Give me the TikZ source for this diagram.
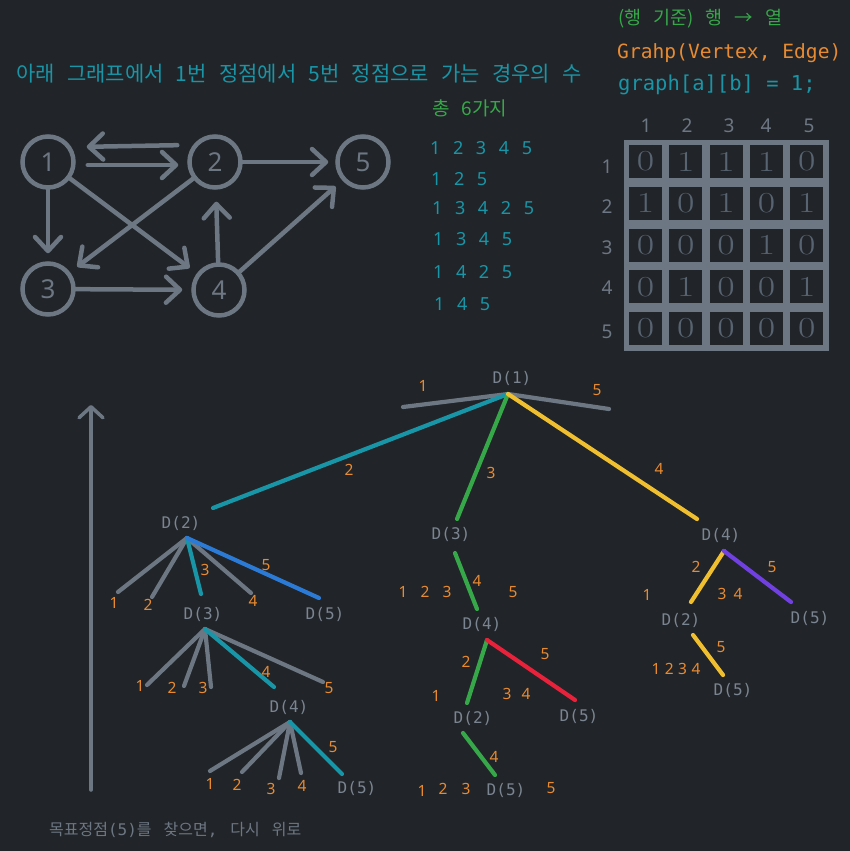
\documentclass[tikz,border=0pt]{standalone}
\usepackage{fontspec}
\usepackage{graphicx}
\usetikzlibrary{arrows.meta}
\newfontfamily\kr[WordSpace=2.2]{Noto Sans CJK KR}
\newfontfamily\krt[WordSpace=2.6]{Noto Sans CJK KR}
\newfontfamily\monof{DejaVu Sans Mono}
\newfontfamily\sansf{Noto Sans}
\definecolor{bg}{HTML}{212428}
\definecolor{gry}{HTML}{6D7783}
\definecolor{tgry}{HTML}{7B8591}
\definecolor{tealc}{HTML}{1895A6}
\definecolor{grn}{HTML}{37A84A}
\definecolor{orng}{HTML}{E88A30}
\definecolor{ylw}{HTML}{F0BF2F}
\definecolor{blu}{HTML}{2B7BD6}
\definecolor{redc}{HTML}{E8223A}
\definecolor{prp}{HTML}{7040E0}
\newcommand\gp{\hspace{12.6pt}}
\begin{document}
\begin{tikzpicture}[x=1pt,y=-1pt,
  vtx/.style={circle,draw=gry,line width=4.5pt,minimum size=51pt,inner sep=0pt,text=gry,font=\sansf\fontsize{26}{26}\selectfont},
  garr/.style={draw=gry,line width=4.5pt,line cap=round,-{Straight Barb[length=14pt,width=26pt,line cap=round,line join=round]}},
  dtxt/.style={inner sep=0pt,text=tgry,font=\monof\fontsize{16}{16}\selectfont},
  lbl/.style={inner sep=0pt,text=orng,font=\sansf\fontsize{15.5}{16}\selectfont},
  tl/.style={line width=4.2pt,line cap=round},
  cell/.style={fill=bg,minimum size=33pt,inner sep=0pt,text=gry!115,font=\rmfamily\fontsize{29}{29}\selectfont},
  hdr/.style={inner sep=0pt,text=gry,font=\sansf\fontsize{19}{19}\selectfont},
  pth/.style={anchor=west,inner sep=0pt,text=tealc,font=\sansf\fontsize{18}{18}\selectfont}
]
\fill[bg] (0,0) rectangle (850,851);
\useasboundingbox (0,0) rectangle (850,851);

% ---- title texts
\node[anchor=west,inner sep=0pt,text=tealc,font=\krt\fontsize{21}{21}\selectfont] (title) at (16,74) {아래 그래프에서 1번 정점에서 5번 정점으로 가는 경우의 수};
\node[inner sep=0pt,text=grn,font=\kr\fontsize{19}{19}\selectfont] (total) at (470,108) {총 6가지};
\node[anchor=west,inner sep=0pt,text=grn,font=\kr\fontsize{18.5}{19}\selectfont] (rowcol) at (618,19) {(행\hspace{12pt}기준)\hspace{12pt}행\hspace{12pt}→\hspace{12pt}열};
\node[anchor=west,inner sep=0pt,text=orng,font=\monof\fontsize{19.6}{20}\selectfont] (gdef) at (617,53) {Grahp(Vertex, Edge)};
\node[anchor=west,inner sep=0pt,text=tealc,font=\monof\fontsize{20.5}{21}\selectfont] (gcode) at (618,85) {graph[a][b] = 1;};

% ---- paths list
\node[pth] (p1) at (430,148) {1\gp 2\gp 3\gp 4\gp 5};
\node[pth] (p2) at (431,179) {1\gp 2\gp 5};
\node[pth] (p3) at (432,208) {1\gp 3\gp 4\gp 2\gp 5};
\node[pth] (p4) at (433,239) {1\gp 3\gp 4\gp 5};
\node[pth] (p5) at (433,272) {1\gp 4\gp 2\gp 5};
\node[pth] (p6) at (434,304) {1\gp 4\gp 5};

% ---- graph
\node[vtx] (n1) at (48,162) {1};
\node[vtx] (n2) at (215,162) {2};
\node[vtx] (n5) at (363,162) {5};
\node[vtx] (n3) at (48,289) {3};
\node[vtx] (n4) at (219,290) {4};
\draw[garr,shorten <=10pt,shorten >=11pt] ([yshift=17pt]n2.west) -- ([yshift=15pt]n1.east);
\draw[garr,shorten <=12pt,shorten >=9pt] ([yshift=-3pt]n1.east) -- ([yshift=-3pt]n2.west);
\draw[garr,shorten >=8pt] (n1) -- (n3);
\draw[garr,shorten >=9pt] (n1) -- (n4);
\draw[garr,shorten >=9pt] (n2) -- (n3);
\draw[garr,shorten >=9pt] (n3) -- (n4);
\draw[garr,shorten >=12pt] (n4) -- (n2);
\draw[garr,shorten >=7pt] (n2) -- (n5);
\draw[garr,shorten >=9pt] (n4) -- (n5);

% ---- adjacency matrix
\node[fill=gry,minimum width=205pt,minimum height=211pt,inner sep=0pt] (frame) at (726.5,245.5) {};
\foreach \r/\vals in {1/{0,1,1,1,0},2/{1,0,1,0,1},3/{0,0,0,1,0},4/{0,1,0,0,1},5/{0,0,0,0,0}}{
  \foreach \v [count=\c] in \vals {
    \node[cell] (m\r\c) at ({645.5+(\c-1)*40.3},{161.5+(\r-1)*41.75}) {\scalebox{1.3}[1]{\v}};
  }
}
\foreach \c/\x in {1/646,2/687,3/729,4/766,5/809}{
  \node[hdr] (ch\c) at (\x,126) {\c};
}
\foreach \r/\y in {1/167,2/207,3/248,4/288,5/332}{
  \node[hdr] (rh\r) at (607,\y) {\r};
}

% ---- left arrow
\coordinate (ab) at (91,790);
\coordinate (at) at (91,405);
\draw[draw=gry,line width=3.5pt,line cap=round,-{Straight Barb[length=11pt,width=24pt,line cap=round,line join=round]}] (ab) -- (at);
\node[anchor=west,inner sep=0pt,text=gry,font=\kr\fontsize{16}{16}\selectfont] (note) at (49,830) {목표정점{\monof(5)}를\hspace{12pt}찾으면{\monof,}\hspace{13pt}다시\hspace{12pt}위로};

% ---- tree: D(1)
\node[dtxt] (D1) at (512,378) {D(1)};
\coordinate (r1) at (508,394);
\coordinate (e1a) at (403,407);
\coordinate (e1b) at (609,409);
\coordinate (e1c) at (213,508);
\coordinate (e1d) at (457,519);
\coordinate (e1e) at (697,519);
\draw[tl,gry] (r1) -- (e1a);
\draw[tl,gry] (r1) -- (e1b);
\draw[tl,tealc] (r1) -- (e1c);
\draw[tl,grn] (r1) -- (e1d);
\draw[tl,ylw] (r1) -- (e1e);
\node[lbl] (l11) at (423,386) {1};
\node[lbl] (l15) at (597,390) {5};
\node[lbl] (l12) at (349,470) {2};
\node[lbl] (l13) at (491,473) {3};
\node[lbl] (l14) at (659,469) {4};

% ---- left subtree
\node[dtxt] (D2a) at (181,523) {D(2)};
\coordinate (r2) at (187,538);
\coordinate (e2a) at (118,592);
\coordinate (e2b) at (152,597);
\coordinate (e2c) at (201,594);
\coordinate (e2d) at (251,593);
\coordinate (e2e) at (319,598);
\draw[tl,gry] (r2) -- (e2a);
\draw[tl,gry] (r2) -- (e2b);
\draw[tl,gry] (r2) -- (e2d);
\draw[tl,tealc] (r2) -- (e2c);
\draw[tl,blu] (r2) -- (e2e);
\node[lbl] (l21) at (114,603) {1};
\node[lbl] (l22) at (148,605) {2};
\node[lbl] (l23) at (205,570) {3};
\node[lbl] (l24) at (253,601) {4};
\node[lbl] (l25) at (266,565) {5};
\node[dtxt] (D3a) at (203,614) {D(3)};
\node[dtxt] (D5a) at (325,614) {D(5)};
\coordinate (r3) at (205,629);
\coordinate (e3a) at (147,685);
\coordinate (e3b) at (184,686);
\coordinate (e3c) at (211,687);
\coordinate (e3d) at (274,687);
\coordinate (e3e) at (323,682);
\draw[tl,gry] (r3) -- (e3a);
\draw[tl,gry] (r3) -- (e3b);
\draw[tl,gry] (r3) -- (e3c);
\draw[tl,gry] (r3) -- (e3e);
\draw[tl,tealc] (r3) -- (e3d);
\node[lbl] (l31) at (140,686) {1};
\node[lbl] (l32) at (172,688) {2};
\node[lbl] (l33) at (203,688) {3};
\node[lbl] (l34) at (266,672) {4};
\node[lbl] (l35) at (329,688) {5};
\node[dtxt] (D4a) at (289,707) {D(4)};
\coordinate (r4) at (290,722);
\coordinate (e4a) at (210,771);
\coordinate (e4b) at (242,772);
\coordinate (e4c) at (279,778);
\coordinate (e4d) at (301,773);
\coordinate (e4e) at (342,774);
\draw[tl,gry] (r4) -- (e4a);
\draw[tl,gry] (r4) -- (e4b);
\draw[tl,gry] (r4) -- (e4c);
\draw[tl,gry] (r4) -- (e4d);
\draw[tl,tealc] (r4) -- (e4e);
\node[lbl] (l41) at (210,784) {1};
\node[lbl] (l42) at (237,785) {2};
\node[lbl] (l43) at (271,789) {3};
\node[lbl] (l44) at (302,786) {4};
\node[lbl] (l45) at (333,747) {5};
\node[dtxt] (D5b) at (357,788) {D(5)};

% ---- middle subtree
\node[dtxt] (D3m) at (451,534) {D(3)};
\coordinate (m1s) at (455,553);
\coordinate (m1e) at (477,609);
\draw[tl,grn] (m1s) -- (m1e);
\node[lbl] (lm4) at (477,581) {4};
\node[lbl] (lm1) at (403,592) {1};
\node[lbl] (lm2) at (425,592) {2};
\node[lbl] (lm3) at (447,592) {3};
\node[lbl] (lm5) at (513,592) {5};
\node[dtxt] (D4m) at (482,624) {D(4)};
\coordinate (m2r) at (487,640);
\coordinate (m2a) at (467,703);
\coordinate (m2b) at (575,700);
\draw[tl,grn] (m2r) -- (m2a);
\draw[tl,redc] (m2r) -- (m2b);
\node[lbl] (ln2) at (466,662) {2};
\node[lbl] (ln5) at (545,654) {5};
\node[lbl] (ln1) at (436,696) {1};
\node[lbl] (ln3) at (507,694) {3};
\node[lbl] (ln4) at (526,694) {4};
\node[dtxt] (D2m) at (473,718) {D(2)};
\node[dtxt] (D5m) at (579,716) {D(5)};
\coordinate (m3s) at (463,733);
\coordinate (m3e) at (495,775);
\draw[tl,grn] (m3s) -- (m3e);
\node[lbl] (lo4) at (494,757) {4};
\node[lbl] (lo1) at (422,791) {1};
\node[lbl] (lo2) at (443,789) {2};
\node[lbl] (lo3) at (466,789) {3};
\node[dtxt] (D5n) at (506,790) {D(5)};
\node[lbl] (lo5) at (551,788) {5};

% ---- right subtree
\node[dtxt] (D4r) at (721,535) {D(4)};
\coordinate (rr) at (724,551);
\coordinate (rra) at (691,602);
\coordinate (rrb) at (791,602);
\draw[tl,ylw] (rr) -- (rra);
\draw[tl,prp] (rr) -- (rrb);
\node[lbl] (lr2) at (696,567) {2};
\node[lbl] (lr5) at (772,567) {5};
\node[lbl] (lr1) at (647,595) {1};
\node[lbl] (lr3) at (722,594) {3};
\node[lbl] (lr4) at (738,594) {4};
\node[dtxt] (D2r) at (681,620) {D(2)};
\node[dtxt] (D5r) at (810,618) {D(5)};
\coordinate (rs) at (693,635);
\coordinate (re) at (723,675);
\draw[tl,ylw] (rs) -- (re);
\node[lbl] (ls5) at (721,647) {5};
\node[lbl] (ls1234) at (676,669) {1\hspace{4.5pt}2\hspace{4.5pt}3\hspace{4.5pt}4};
\node[dtxt] (D5s) at (733,690) {D(5)};
\end{tikzpicture}
\end{document}
